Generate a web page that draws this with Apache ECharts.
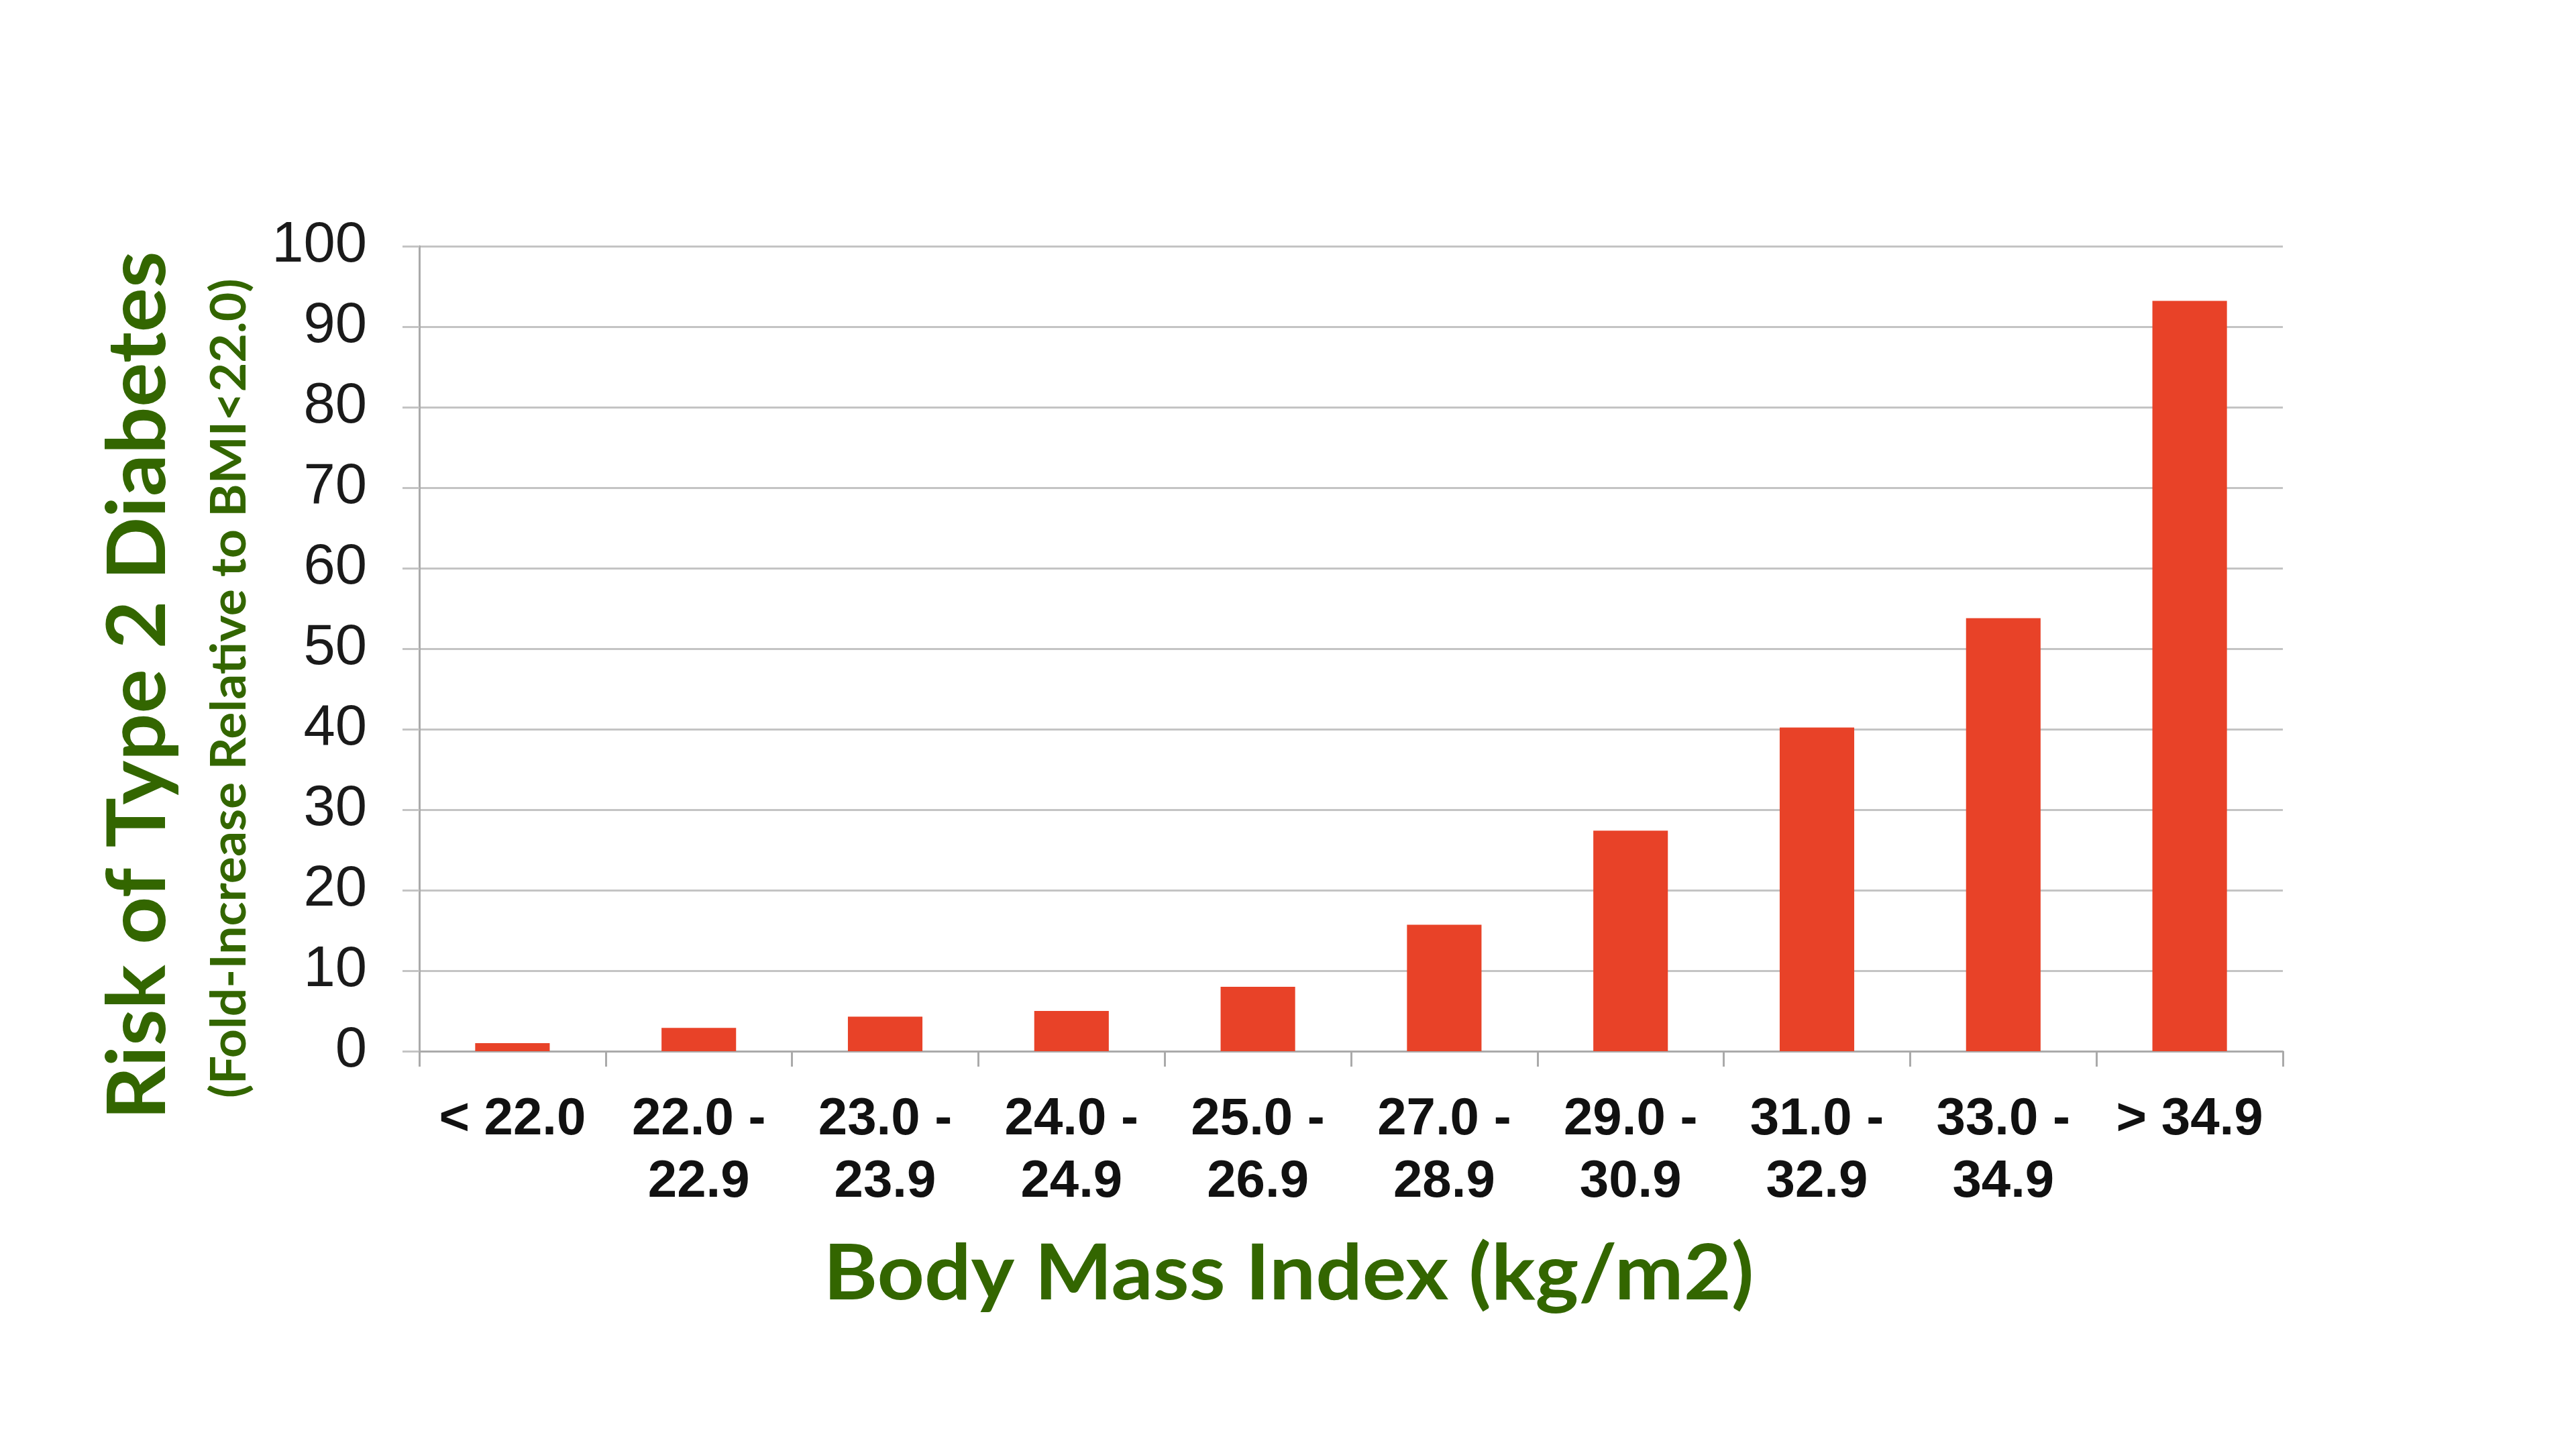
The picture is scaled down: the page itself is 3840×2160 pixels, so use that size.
<!DOCTYPE html>
<html>
<head>
<meta charset="utf-8">
<script src="https://cdn.jsdelivr.net/npm/echarts@6/dist/echarts.min.js"></script>
<style>
html,body{margin:0;padding:0;background:#fff;}
#chart{width:3840px;height:2160px;}
</style>
</head>
<body>
<div id="chart"></div>
<script>
const categories = ['< 22.0', '22.0 -\n22.9', '23.0 -\n23.9', '24.0 -\n24.9', '25.0 -\n26.9', '27.0 -\n28.9', '29.0 -\n30.9', '31.0 -\n32.9', '33.0 -\n34.9', '> 34.9'];
const riskValues = [1.0, 2.9, 4.3, 5.0, 8.0, 15.7, 27.4, 40.2, 53.8, 93.2];
const yTitle = 'Risk of Type 2 Diabetes';
const ySubtitle = '(Fold-Increase Relative to BMI<22.0)';
const xTitle = 'Body Mass Index (kg/m2)';

const green = '#336600';
const titleFamily = 'Lato, "Open Sans", sans-serif';

function measure(text, font) {
  const c = document.createElement('canvas').getContext('2d');
  c.font = font;
  return c.measureText(text).width;
}
function fitScale(text, size, target) {
  const w = measure(text, 'bold ' + size + 'px ' + titleFamily);
  return w > 0 ? target / w : 1;
}

const chart = echarts.init(document.getElementById('chart'), null, {renderer: 'canvas'});

function build() {
  const sY = fitScale(yTitle, 120, 1295);
  const sSub = fitScale(ySubtitle, 72, 1222);
  const sX = fitScale(xTitle, 115, 1387);
  chart.setOption({
    backgroundColor: '#ffffff',
    animation: false,
    grid: {left: 625, right: 437, top: 367, bottom: 593, containLabel: false},
    xAxis: {
      type: 'category',
      data: categories,
      boundaryGap: true,
      axisLine: {show: true, lineStyle: {color: '#aaaaaa', width: 3}},
      axisTick: {show: true, alignWithLabel: false, length: 23, lineStyle: {color: '#aaaaaa', width: 3}},
      axisLabel: {
        interval: 0, margin: 56, color: '#111111',
        fontFamily: '"Liberation Sans", Arial, sans-serif', fontWeight: 'bold',
        fontSize: 78, lineHeight: 93
      }
    },
    yAxis: {
      type: 'value', min: 0, max: 100, interval: 10,
      axisLine: {show: true, lineStyle: {color: '#aaaaaa', width: 3}},
      axisTick: {show: true, length: 25, lineStyle: {color: '#c4c4c4', width: 3}},
      splitLine: {show: true, lineStyle: {color: '#c4c4c4', width: 3}},
      axisLabel: {
        margin: 78, color: '#1a1a1a', padding: [10, 0, 0, 0],
        fontFamily: '"Liberation Sans", Arial, sans-serif', fontSize: 85
      }
    },
    series: [{
      type: 'bar',
      data: riskValues,
      barWidth: '40%',
      itemStyle: {color: '#E84228'}
    }],
    graphic: [
      {
        type: 'text', x: 207, y: 1022, rotation: Math.PI / 2, scaleX: sY, scaleY: 1,
        style: {text: yTitle, fill: green, font: 'bold 120px ' + titleFamily, align: 'center', verticalAlign: 'middle'}
      },
      {
        type: 'text', x: 343, y: 1026, rotation: Math.PI / 2, scaleX: sSub, scaleY: 1,
        style: {text: ySubtitle, fill: green, font: 'bold 72px ' + titleFamily, align: 'center', verticalAlign: 'middle'}
      },
      {
        type: 'text', x: 1921, y: 1900, scaleX: sX, scaleY: 1,
        style: {text: xTitle, fill: green, font: 'bold 115px ' + titleFamily, align: 'center', verticalAlign: 'middle'}
      }
    ]
  });
}
if (document.fonts && document.fonts.load) {
  Promise.all([document.fonts.load('bold 120px Lato')]).then(build, build);
} else {
  build();
}
</script>
</body>
</html>
